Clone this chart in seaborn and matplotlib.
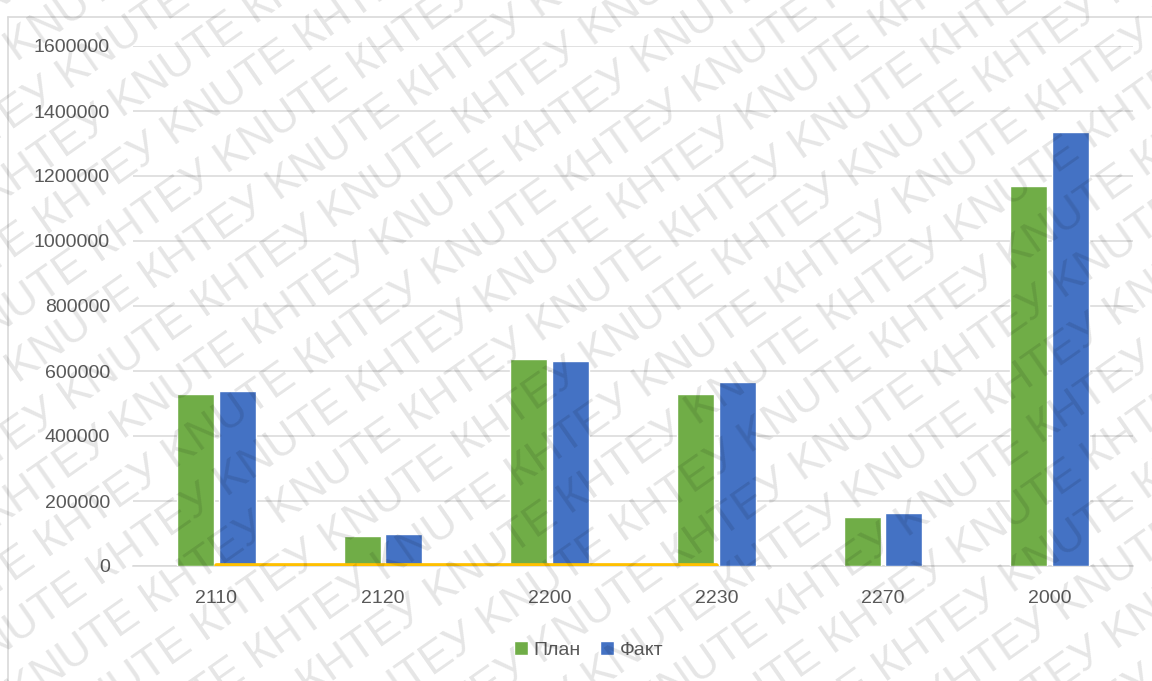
import matplotlib
matplotlib.use("Agg")
import matplotlib.pyplot as plt
from matplotlib.lines import Line2D
from matplotlib.patches import Patch
import seaborn as sns
import numpy as np
import pandas as pd

# values
codes = ["2110", "2120", "2200", "2230", "2270", "2000"]
plan = [529000, 93000, 636000, 530000, 151000, 1168000]
fact = [537500, 97500, 632000, 565000, 163000, 1334500]
deviation = [3000, 3000, 3000, 3000]   # yellow line near zero, first four codes only
y_ticks = [0, 200000, 400000, 600000, 800000, 1000000, 1200000, 1400000, 1600000]

GREEN = "#70AD47"
BLUE = "#4472C4"
YELLOW = "#FFC000"
GRID = "#d9d9d9"
TXT = "#595959"

df = pd.DataFrame({
    "code": codes * 2,
    "value": plan + fact,
    "series": ["План"] * len(codes) + ["Факт"] * len(codes),
})

sns.set_style("white")
plt.rcParams["font.family"] = ["Liberation Sans", "DejaVu Sans"]

W, H = 1152, 681
fig = plt.figure(figsize=(W / 100, H / 100), dpi=100)
ax = fig.add_axes([133 / W, 1 - 566 / H, 1000 / W, 520 / H])

sns.barplot(data=df, x="code", y="value", hue="series", order=codes,
            hue_order=["План", "Факт"], palette=[GREEN, BLUE], saturation=1,
            width=0.5, gap=0.11, legend=False, ax=ax, zorder=3)

ax.plot(np.arange(len(deviation)), deviation, color=YELLOW, lw=3.4,
        solid_capstyle="round", zorder=5)

ax.set_xlim(-0.5, len(codes) - 0.5)
ax.set_ylim(0, 1600000)
ax.set_yticks(y_ticks)
ax.set_yticklabels([str(v) for v in y_ticks])
ax.set_xlabel("")
ax.set_ylabel("")
ax.yaxis.grid(True, color=GRID, lw=1.1, zorder=0)
ax.set_axisbelow(True)
for s in ["top", "right", "left"]:
    ax.spines[s].set_visible(False)
ax.spines["bottom"].set_color(GRID)
ax.spines["bottom"].set_linewidth(1.1)
ax.tick_params(axis="y", length=0, pad=16.5, labelsize=14, labelcolor=TXT)
ax.tick_params(axis="x", length=0, pad=17, labelsize=14, labelcolor=TXT)

handles = [Patch(facecolor=GREEN, label="План"), Patch(facecolor=BLUE, label="Факт")]
fig.legend(handles=handles, loc="center", bbox_to_anchor=(0.511, 1 - 650 / H),
           ncol=2, frameon=False, fontsize=14, labelcolor=TXT,
           handlelength=0.7, handleheight=0.7, handletextpad=0.3, columnspacing=1.0)

# outer frame (left and top edges visible in the crop)
fig.add_artist(Line2D([8 / W, 8 / W], [0, 1 - 17 / H], transform=fig.transFigure,
                      color=GRID, lw=1.2))
fig.add_artist(Line2D([8 / W, 1], [1 - 17 / H, 1 - 17 / H], transform=fig.transFigure,
                      color=GRID, lw=1.2))

# diagonal watermark over the whole picture
ang = np.deg2rad(35)
d = np.array([np.cos(ang), np.sin(ang)])
p = np.array([-np.sin(ang), np.cos(ang)])
mark = "КНТЕУ KNUTE " * 14
for k in range(-25, 25):
    x0, y0 = np.array([300, 300]) + k * 53 * p + ((-27 * k) % 320) * d - 1900 * d
    fig.text(x0 / W, y0 / H, mark, rotation=35, rotation_mode="anchor",
             ha="left", va="baseline", fontsize=32, color="black", alpha=0.1,
             zorder=10)

fig.savefig("out.png", dpi=100)
plt.close(fig)
